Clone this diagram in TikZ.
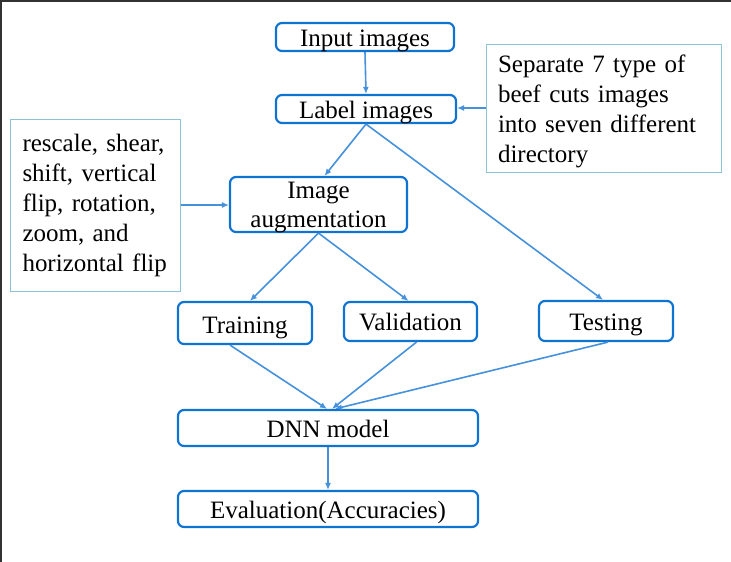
\documentclass[tikz,border=0pt]{standalone}
\usepackage{fontspec}
\setmainfont{Liberation Serif}
\usetikzlibrary{arrows.meta}
\definecolor{boxblue}{RGB}{15,115,210}
\definecolor{arrblue}{RGB}{70,145,220}
\definecolor{notebl}{RGB}{140,195,212}
\definecolor{framegray}{RGB}{50,50,50}
\begin{document}
\begin{tikzpicture}[x=1pt,y=-1pt,
  flowbox/.style={draw=boxblue, line width=2.2pt, rounded corners=6pt, inner sep=0pt,
    font=\fontsize{25}{28}\selectfont, text height=19pt, text depth=1pt},
  flowtext/.style={inner sep=0pt, font=\fontsize{25}{28}\selectfont, anchor=base},
  notebox/.style={draw=notebl, line width=1pt, inner ysep=0pt,
    font=\fontsize{25}{30}\selectfont, align=left},
  arr/.style={draw=arrblue, line width=1.6pt, -{Latex[length=7pt,width=6pt]}}]
\useasboundingbox (0,0) rectangle (731,562);
\draw[framegray, line width=2pt] (1,562) -- (1,1) -- (731,1);

\node[flowbox, minimum width=178pt, minimum height=28pt] (inp) at (365,37) {Input images};
\node[flowbox, minimum width=180pt, minimum height=28pt] (lab) at (366,109) {Label images};
\node[flowbox, minimum width=177pt, minimum height=55pt, text height=0pt, text depth=0pt] (aug) at (318.5,204.5) {};
\node[flowtext] (augA) at (318.5,198) {Image};
\node[flowtext] (augB) at (318.5,227.5) {augmentation};
\node[flowbox, minimum width=134pt, minimum height=42pt, text height=20pt, text depth=0pt] (trn) at (245,323) {Training};
\node[flowbox, minimum width=133pt, minimum height=39pt] (val) at (410.5,321.5) {Validation};
\node[flowbox, minimum width=134pt, minimum height=40pt] (tst) at (606,321) {Testing};
\node[flowbox, minimum width=300pt, minimum height=36pt] (dnn) at (328,428) {DNN model};
\node[flowbox, minimum width=300pt, minimum height=36pt] (ev) at (328,509) {Evaluation(Accuracies)};

\node[notebox, minimum width=235pt, minimum height=128pt, text width=211pt, inner xsep=12pt]
  (sep) at (603.5,108) {\rule{0pt}{24pt}Separate 7 type of\\beef cuts images\\into seven different\\directory};
\node[notebox, minimum width=170pt, minimum height=172pt, text width=145pt, inner xsep=12.5pt, xshift=4pt]
  (rsc) at (91,205) {rescale, shear,\\shift, vertical\\flip, rotation,\\zoom, and\\horizontal flip};

\draw[arr] (inp.south) -- (lab.north);
\draw[arr] (sep.west) -- (sep.west -| lab.east);
\draw[arr] (rsc.east) -- (rsc.east -| aug.west);
\draw[arr] (lab.south) -- ([xshift=6pt]aug.north);
\draw[arr] (lab.south) -- ([xshift=-3pt]tst.north);
\draw[arr] (aug.south) -- ([xshift=5pt]trn.north);
\draw[arr] (aug.south) -- ([xshift=-2pt]val.north);
\draw[arr] ([xshift=-15pt]trn.south) -- ([xshift=-1pt]dnn.north);
\draw[arr] ([xshift=6pt]val.south) -- ([xshift=4pt]dnn.north);
\draw[arr] ([xshift=2pt]tst.south) -- ([xshift=7pt]dnn.north);
\draw[arr] (dnn.south) -- (ev.north);
\end{tikzpicture}
\end{document}
